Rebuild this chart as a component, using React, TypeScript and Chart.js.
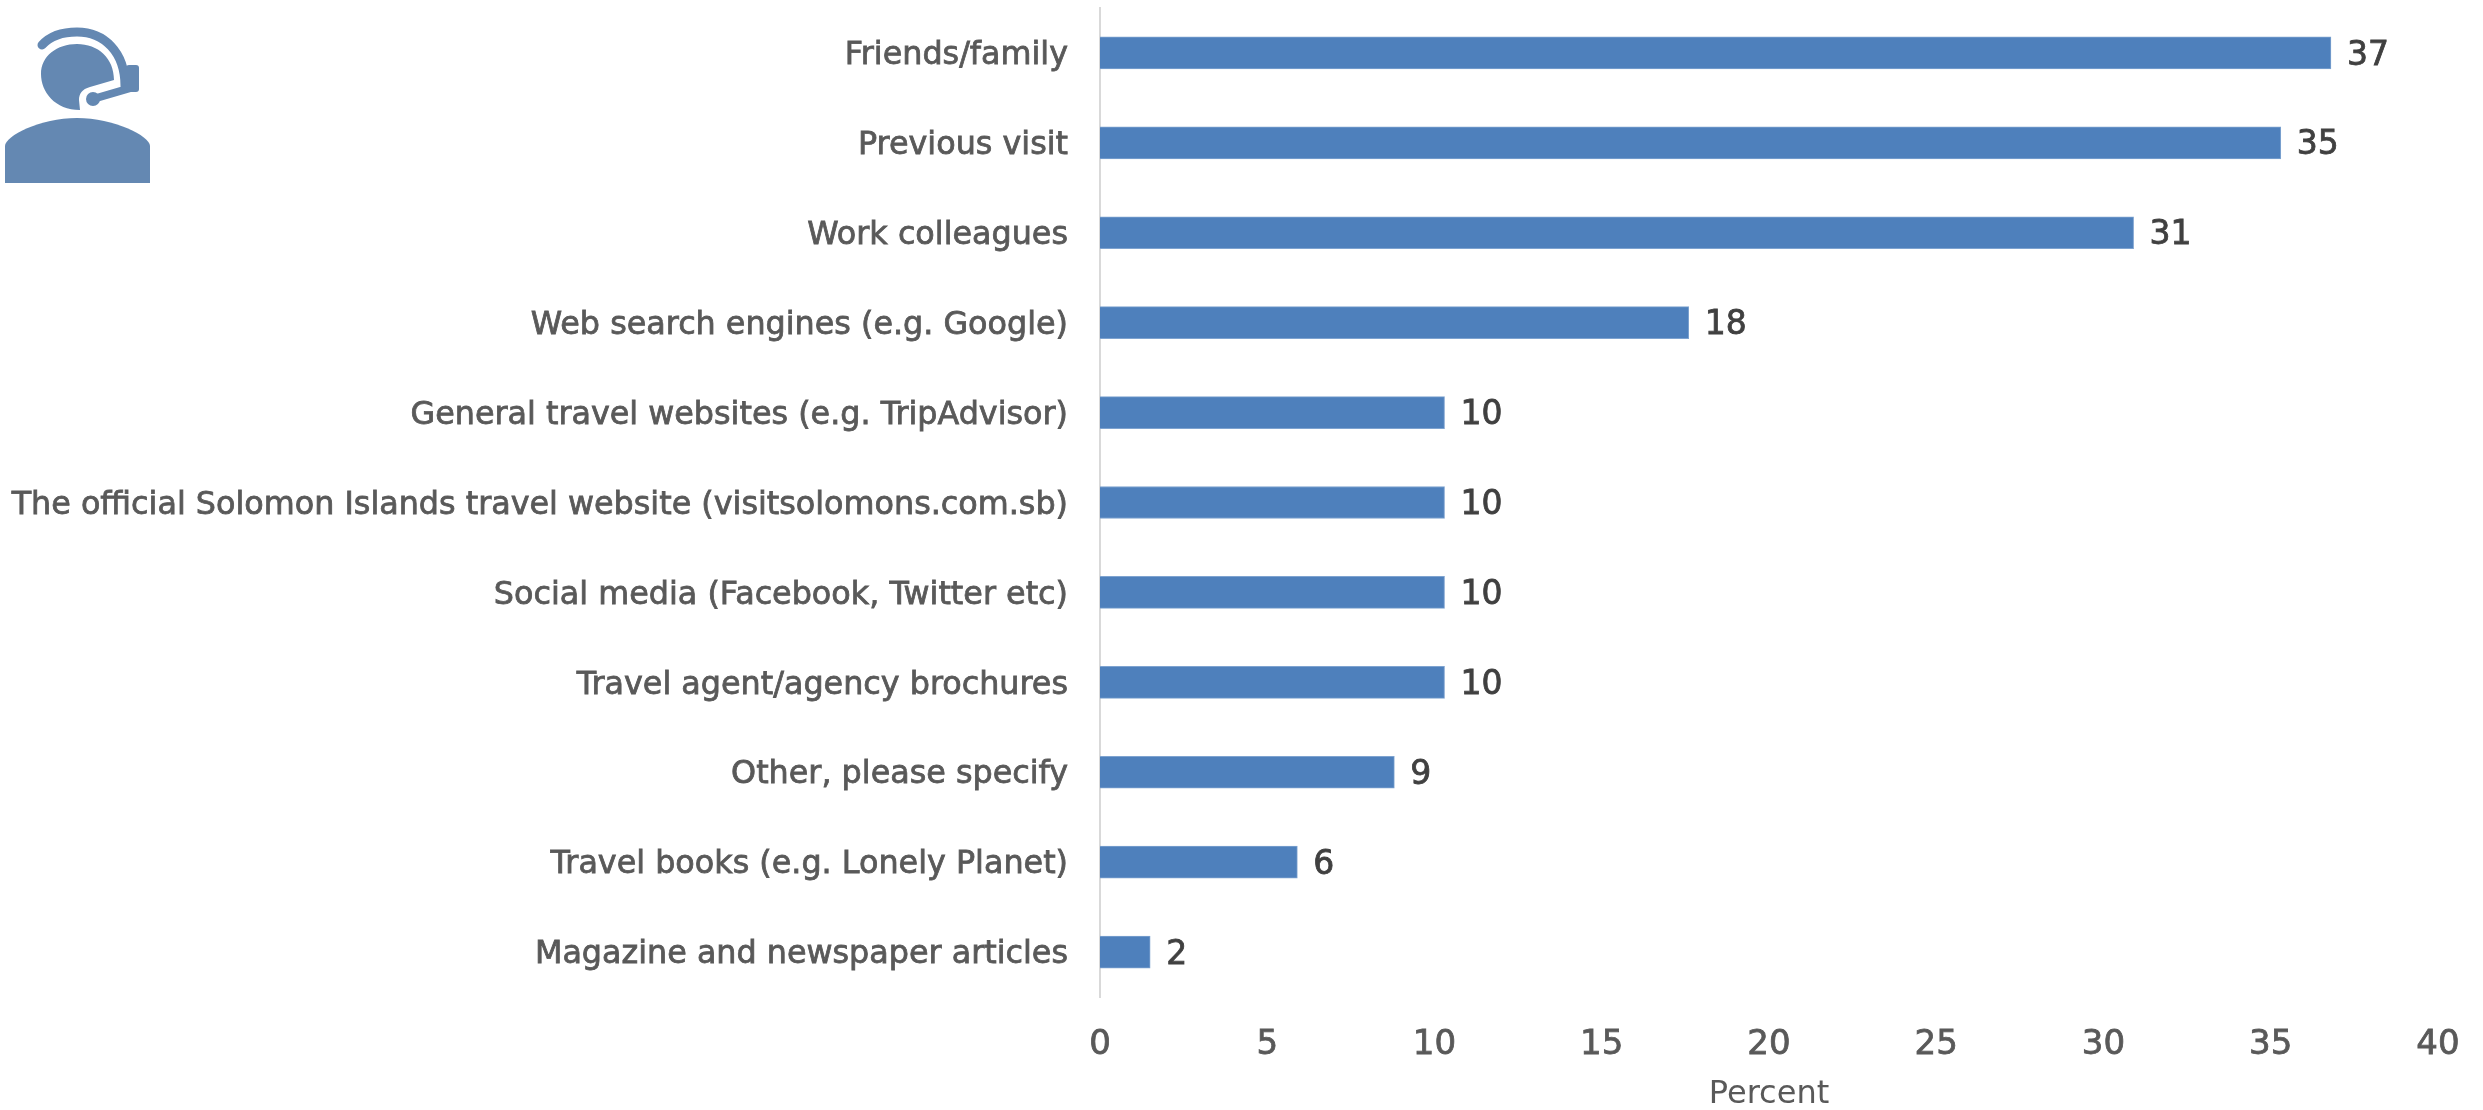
import React, { useEffect, useRef } from "react";
import { Chart, registerables } from "chart.js";

Chart.register(...registerables);

const categories = [
  "Friends/family",
  "Previous visit",
  "Work colleagues",
  "Web search engines (e.g. Google)",
  "General travel websites (e.g. TripAdvisor)",
  "The official Solomon Islands travel website (visitsolomons.com.sb)",
  "Social media (Facebook, Twitter etc)",
  "Travel agent/agency brochures",
  "Other, please specify",
  "Travel books (e.g. Lonely Planet)",
  "Magazine and newspaper articles",
];
const values = [36.8, 35.3, 30.9, 17.6, 10.3, 10.3, 10.3, 10.3, 8.8, 5.9, 1.5];
const valueLabels = ["37", "35", "31", "18", "10", "10", "10", "10", "9", "6", "2"];
const FONT = "'DejaVu Sans'";

const valueLabelPlugin = {
  id: "valueLabels",
  afterUpdate(chart: any) {
    // Nudge category labels down so their optical centre sits on the bar.
    chart.scales.y.getLabelItems().forEach((item: any) => {
      item.options.translation[1] += 3;
    });
  },
  afterDatasetsDraw(chart: any) {
    const { ctx } = chart;
    const meta = chart.getDatasetMeta(0);
    ctx.save();
    ctx.font = `33px ${FONT}`;
    ctx.fillStyle = "#404040";
    ctx.strokeStyle = "#404040";
    ctx.lineWidth = 0.8;
    ctx.textAlign = "left";
    ctx.textBaseline = "middle";
    meta.data.forEach((el: any, i: number) => {
      ctx.fillText(valueLabels[i], el.x + 16, el.y + 3);
      ctx.strokeText(valueLabels[i], el.x + 16, el.y + 3);
    });
    ctx.restore();
  },
};

export default function App() {
  const ref = useRef<HTMLCanvasElement>(null);
  useEffect(() => {
    const chart = new Chart(ref.current!, {
      type: "bar",
      plugins: [valueLabelPlugin],
      data: {
        labels: categories,
        datasets: [
          {
            data: values,
            backgroundColor: "#4e80bc",
            borderColor: "#7ea3d0",
            borderWidth: 1,
            barThickness: 32,
          },
        ],
      },
      options: {
        indexAxis: "y",
        animation: false,
        responsive: false,
        layout: { padding: { top: 8, right: 45, left: 0, bottom: 0 } },
        plugins: { legend: { display: false }, tooltip: { enabled: false } },
        scales: {
          x: {
            min: 0,
            max: 40,
            afterFit(s: any) {
              s.height = 113;
              s.paddingLeft = 0;
              s.paddingRight = 0;
            },
            ticks: {
              stepSize: 5,
              maxRotation: 0,
              padding: 28,
              color: "#595959",
              textStrokeColor: "#595959",
              textStrokeWidth: 0.8,
              font: { family: FONT, size: 34 },
            },
            border: { display: false },
            grid: { display: false, drawTicks: false },
            title: {
              display: true,
              text: "Percent",
              color: "#595959",
              font: { family: FONT, size: 32, weight: "normal" },
              padding: { top: 0, bottom: -4 },
            },
          },
          y: {
            afterFit(s: any) {
              s.width = 1100;
              s.paddingTop = 0;
              s.paddingBottom = 0;
            },
            ticks: {
              autoSkip: false,
              padding: 32,
              color: "#595959",
              textStrokeColor: "#595959",
              textStrokeWidth: 0.8,
              font: { family: FONT, size: 31.8 },
            },
            border: { display: true, color: "#d9d9d9", width: 2 },
            grid: { display: false, drawTicks: false },
          },
        },
      },
    });
    return () => chart.destroy();
  }, []);
  return (
    <div style={{ position: "absolute", left: 0, top: 0, width: 2483, height: 1110 }}>
      <canvas ref={ref} width={2483} height={1110} style={{ display: "block" }} />
      <svg width={160} height={190} style={{ position: "absolute", left: 0, top: 0 }} viewBox="0 0 160 190">
        <g fill="#6488b2">
          <path d="M5 183 V146 C5 136 40 118 77 118 C114 118 150 136 150 146 V183 Z" />
          <path d="M80 110 C55 110 41 92 41 74 C41 56 57 44 77 44 C98 44 114 58 114 80 L90 87 C82 89 79 94 79 100 Z" />
        </g>
        <path d="M42 45 C52 34 65 32 77 32 C104 32 125 52 125 86" fill="none" stroke="#6488b2" strokeWidth={9} strokeLinecap="round" />
        <path d="M93 99 L134 87" fill="none" stroke="#6488b2" strokeWidth={8} strokeLinecap="round" />
        <rect x={126} y={65} width={13} height={27} rx={3} fill="#6488b2" />
        <circle cx={93} cy={99} r={7} fill="#6488b2" />
      </svg>
    </div>
  );
}
